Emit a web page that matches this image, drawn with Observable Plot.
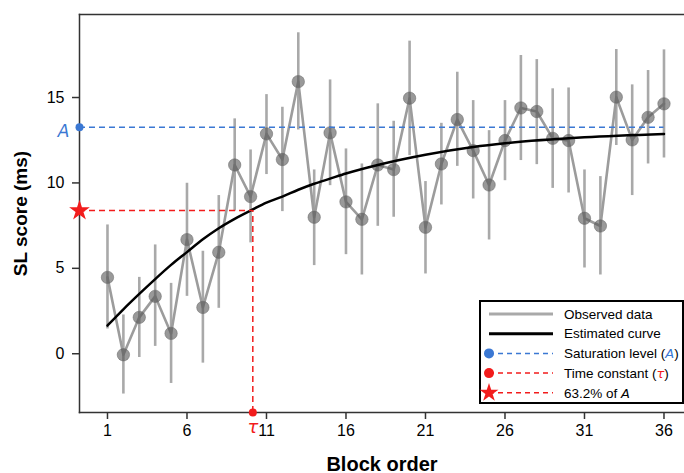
<!DOCTYPE html>
<html>
<head>
<meta charset="utf-8">
<script src="https://cdn.jsdelivr.net/npm/d3@7"></script>
<script src="https://cdn.jsdelivr.net/npm/@observablehq/plot@0.6"></script>
<style>
  body { margin: 0; background: #fff; }
  svg { font-family: "Liberation Sans", Arial, sans-serif; }
</style>
</head>
<body>
<div id="chart"></div>
<script>
const blocks = d3.range(1, 37);
const scores = [4.47, -0.06, 2.13, 3.36, 1.19, 6.68, 2.71, 5.94, 11.05, 9.2, 12.87, 11.37, 15.93, 7.99, 12.93, 8.89, 7.87, 11.05, 10.78, 14.96, 7.4, 11.11, 13.71, 11.89, 9.88, 12.48, 14.39, 14.18, 12.61, 12.48, 7.93, 7.48, 15.02, 12.52, 13.84, 14.63];
const upper = [7.54, 2.27, 4.47, 6.37, 4.12, 9.98, 6.0, 9.26, 13.75, 11.93, 15.17, 14.43, 18.79, 10.76, 16.03, 11.99, 11.11, 14.63, 13.61, 18.3, 10.08, 13.49, 16.48, 14.82, 13.06, 14.82, 17.46, 17.22, 15.51, 15.56, 10.76, 10.37, 17.81, 15.74, 16.58, 17.79];
const lower = [1.45, -2.36, -0.22, 0.43, -1.74, 3.36, -0.55, 2.66, 8.35, 6.49, 10.49, 8.32, 13.1, 5.16, 9.84, 5.8, 4.61, 7.46, 7.99, 11.6, 4.67, 8.71, 10.97, 9.06, 6.66, 10.13, 11.31, 11.07, 9.68, 9.41, 5.02, 4.61, 12.19, 9.26, 11.11, 11.46];

// estimated curve
const curveX = [1, 2, 3, 4, 5, 6, 7, 8, 9, 10.14, 11, 12, 13, 14, 15, 16, 18, 21, 24, 26, 31, 36];
const curveY = [1.65, 2.6, 3.5, 4.37, 5.2, 5.95, 6.7, 7.35, 7.9, 8.45, 8.85, 9.2, 9.6, 9.95, 10.25, 10.55, 11.05, 11.65, 12.1, 12.32, 12.67, 12.87];

const saturationA = 13.26;
const tau = 10.14;
const target = 8.38; // 63.2% of A

const xTicks = [1, 6, 11, 16, 21, 26, 31, 36];
const yTicks = [0, 5, 10, 15];
const xDomain = [-0.76, 37.29];
const yDomain = [-3.44, 19.86];

const obs = blocks.map((b, i) => ({b, s: scores[i], lo: lower[i], hi: upper[i]}));
const curve = curveX.map((x, i) => ({x, y: curveY[i]}));

const blue = "#3b78d3";
const red = "#f21c1c";
const axisColor = "#333";
const mathFont = "'DejaVu Sans', sans-serif";

const chart = Plot.plot({
  width: 684,
  height: 473,
  marginLeft: 79,
  marginTop: 14,
  marginBottom: 61,
  marginRight: 0,
  style: {fontFamily: "'Liberation Sans', Arial, sans-serif", background: "#fff"},
  x: {domain: xDomain},
  y: {domain: yDomain},
  marks: [
    Plot.ruleX(obs, {x: "b", y1: "lo", y2: "hi", stroke: "#a9a9a9", strokeWidth: 2.6}),
    Plot.line(obs, {x: "b", y: "s", stroke: "#9c9c9c", strokeWidth: 2.6}),
    Plot.dot(obs, {x: "b", y: "s", r: 6.2, fill: "#555", fillOpacity: 0.6, stroke: "#666", strokeOpacity: 0.5, strokeWidth: 1}),
    Plot.line(curve, {x: "x", y: "y", stroke: "#000", strokeWidth: 2.5, curve: "monotone-x"}),
    Plot.ruleY([saturationA], {x1: xDomain[0], x2: 36, stroke: blue, strokeWidth: 1.5, strokeDasharray: "6,4"}),
    Plot.ruleY([target], {x1: xDomain[0], x2: tau, stroke: red, strokeWidth: 1.5, strokeDasharray: "6,4"}),
    Plot.ruleX([tau], {y1: yDomain[0], y2: target, stroke: red, strokeWidth: 1.5, strokeDasharray: "6,4"}),
    Plot.frame({anchor: "top", stroke: axisColor, strokeWidth: 1.5}),
    Plot.frame({anchor: "left", stroke: axisColor, strokeWidth: 1.5}),
    Plot.frame({anchor: "bottom", stroke: axisColor, strokeWidth: 1.5}),
    Plot.axisX({ticks: xTicks, tickSize: 7, tickPadding: 5, fontSize: 16, stroke: axisColor, strokeWidth: 1.5, label: "Block order", labelAnchor: "center", labelOffset: 58}),
    Plot.axisY({ticks: yTicks, tickSize: 7, tickPadding: 8, fontSize: 16, stroke: axisColor, strokeWidth: 1.5, label: "SL score (ms)", labelAnchor: "center", labelOffset: 66}),
    Plot.dot([saturationA], {y: d => d, frameAnchor: "left", r: 4, fill: blue}),
    Plot.text(["A"], {y: () => saturationA, frameAnchor: "left", lineAnchor: "middle", dx: -16, dy: 4, text: d => d, fill: blue, fontSize: 17, fontStyle: "italic", fontFamily: mathFont, textAnchor: "middle"}),
    Plot.dot([target], {y: d => d, frameAnchor: "left", symbol: "star", r: 6.5, fill: red}),
    Plot.dot([tau], {x: d => d, frameAnchor: "bottom", r: 4, fill: red}),
    Plot.text(["τ"], {x: () => tau, frameAnchor: "bottom", lineAnchor: "middle", dy: 15, text: d => d, fill: red, fontSize: 18, fontStyle: "italic", fontFamily: mathFont})
  ]
});

const svg = d3.select(chart);
svg.select("g[aria-label='x-axis label'] text").text("Block order")
  .attr("font-weight", "bold").attr("font-size", 20).attr("fill", "#000");
svg.select("g[aria-label='y-axis label'] text").text("SL score (ms)")
  .attr("font-weight", "bold").attr("font-size", 19).attr("fill", "#000");

// Legend
const lg = svg.append("g").attr("font-family", "'Liberation Sans', Arial, sans-serif").attr("font-size", 13.5).attr("text-anchor", "start");
lg.append("rect").attr("x", 480).attr("y", 301).attr("width", 203).attr("height", 102)
  .attr("fill", "#fff").attr("stroke", "#000").attr("stroke-width", 2);
const rows = [
  {label: ["Observed data"], stroke: "#a9a9a9", w: 3, dash: null, marker: null},
  {label: ["Estimated curve"], stroke: "#000", w: 3, dash: null, marker: null},
  {label: ["Saturation level (", ["A", blue], ")"], stroke: blue, w: 1.5, dash: "5,4", marker: "dot", color: blue},
  {label: ["Time constant (", ["τ", red], ")"], stroke: red, w: 1.5, dash: "5,4", marker: "dot", color: red},
  {label: ["63.2% of ", ["A", "#000"]], stroke: red, w: 1.5, dash: "5,4", marker: "star", color: red}
];
rows.forEach((r, i) => {
  const y = 314 + i * 19.7;
  lg.append("line").attr("x1", 489).attr("x2", 553).attr("y1", y).attr("y2", y)
    .attr("stroke", r.stroke).attr("stroke-width", r.w).attr("stroke-dasharray", r.dash);
  if (r.marker === "dot") lg.append("circle").attr("cx", 489).attr("cy", y).attr("r", 5).attr("fill", r.color);
  if (r.marker === "star") lg.append("path").attr("d", d3.symbol(d3.symbolStar, 110)())
    .attr("transform", `translate(489,${y})`).attr("fill", r.color);
  const t = lg.append("text").attr("x", 564).attr("y", y).attr("dy", "0.35em").attr("fill", "#000").attr("text-anchor", "start");
  r.label.forEach(part => {
    if (Array.isArray(part)) t.append("tspan").attr("fill", part[1]).attr("font-style", "italic")
      .attr("font-family", "'DejaVu Sans', sans-serif").attr("font-size", 13).text(part[0]);
    else t.append("tspan").text(part);
  });
});

document.getElementById("chart").appendChild(chart);
</script>
</body>
</html>
